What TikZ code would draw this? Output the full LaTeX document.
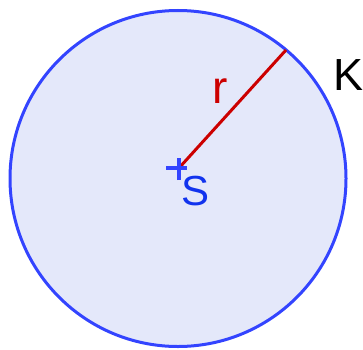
\documentclass[tikz,border=0pt]{standalone}
\usepackage{fontspec}
\setmainfont{Liberation Sans}
\definecolor{circblue}{RGB}{51,68,255}
\definecolor{circfill}{RGB}{228,232,250}
\definecolor{sblue}{RGB}{17,51,238}
\definecolor{rred}{RGB}{204,0,0}
\begin{document}
\begin{tikzpicture}[x=1pt,y=1pt,
  lbl/.style={inner sep=0pt,outer sep=0pt,anchor=base west,font=\fontsize{44}{44}\selectfont}]
\useasboundingbox (0,0) rectangle (363,349);
\coordinate (O) at (178,170.5);
\coordinate (S0) at (179,181);
\coordinate (P) at (286,299);
\fill[circfill] (O) circle (168);
\draw[circblue,line width=3] (O) circle (168);
\draw[rred,line width=3] (S0) -- (P);
\draw[circblue,line width=3.5] ([xshift=-13]S0) -- ([xshift=8]S0);
\draw[circblue,line width=3.5] ([yshift=-12]S0) -- ([yshift=10]S0);
\node[lbl,text=black,font=\fontsize{45}{45}\selectfont] (K) at (333,258.5) {K};
\node[lbl,text=rred,font=\fontsize{46}{46}\selectfont] (r) at (212,245.7) {r};
\node[lbl,text=sblue,font=\fontsize{42}{42}\selectfont] (S) at (181,143.5) {S};
\end{tikzpicture}
\end{document}
